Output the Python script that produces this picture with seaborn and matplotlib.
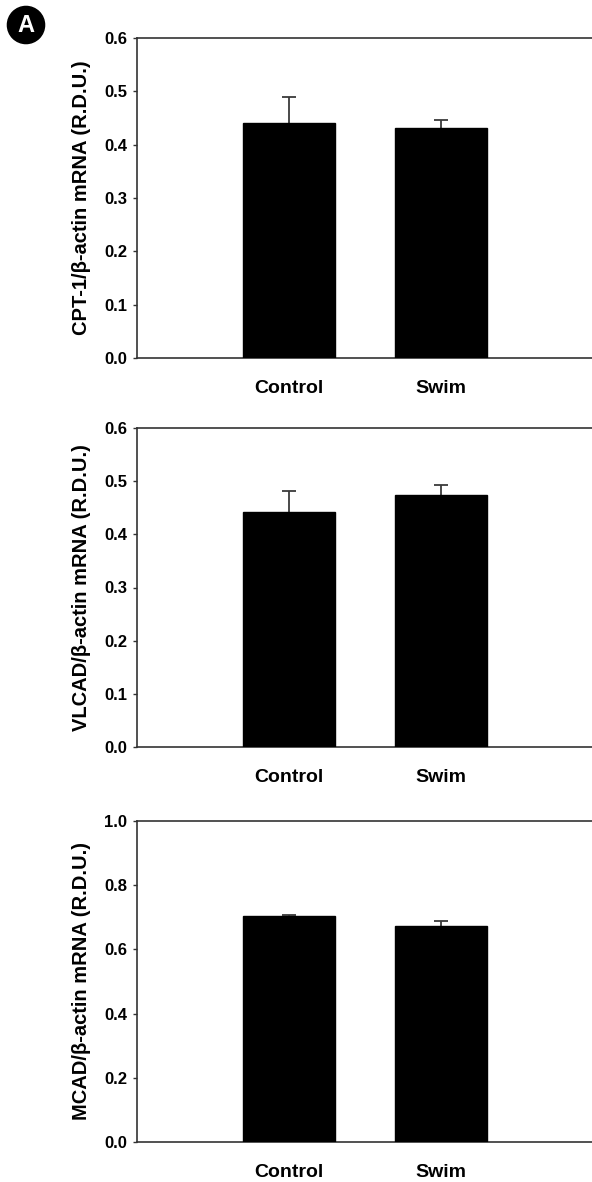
import matplotlib
matplotlib.use("Agg")
import matplotlib.pyplot as plt
import seaborn as sns
import pandas as pd
import numpy as np

sns.set_theme(style="white")
plt.rcParams['font.family'] = ['Liberation Sans', 'DejaVu Sans']
plt.rcParams['font.weight'] = 'bold'
plt.rcParams['text.color'] = 'black'
plt.rcParams['axes.labelcolor'] = 'black'
plt.rcParams['xtick.color'] = 'black'
plt.rcParams['ytick.color'] = 'black'

groups = ["Control", "Swim"]
cpt1_mean = [0.441, 0.432]
cpt1_sem = [0.049, 0.014]
vlcad_mean = [0.442, 0.474]
vlcad_sem = [0.040, 0.019]
mcad_mean = [0.703, 0.674]
mcad_sem = [0.003, 0.016]

ylabels = ["CPT-1/\u03b2-actin mRNA (R.D.U.)",
           "VLCAD/\u03b2-actin mRNA (R.D.U.)",
           "MCAD/\u03b2-actin mRNA (R.D.U.)"]
yticks_list = [np.arange(0, 0.61, 0.1), np.arange(0, 0.61, 0.1), np.arange(0, 1.01, 0.2)]
ylims = [(0, 0.6), (0, 0.6), (0, 1.0)]

W, H = 592, 1182
fig = plt.figure(figsize=(W / 100, H / 100), dpi=100)

panels = [(38, 358), (428, 747), (821, 1142)]
left_px, right_px = 137, 593

data_sets = [(cpt1_mean, cpt1_sem), (vlcad_mean, vlcad_sem), (mcad_mean, mcad_sem)]

for i, ((top, bot), (m, s)) in enumerate(zip(panels, data_sets)):
    ax = fig.add_axes([left_px / W, 1 - bot / H, (right_px - left_px) / W, (bot - top) / H])
    df = pd.DataFrame({"group": groups, "value": m})
    sns.barplot(data=df, x="group", y="value", color="black", width=0.6,
                saturation=1, ax=ax, errorbar=None, edgecolor="black")
    for p in ax.patches:
        p.set_zorder(3)
    ax.errorbar(x=np.arange(len(groups)), y=m, yerr=s,
                fmt="none", ecolor="#3a3a3a", elinewidth=1.3, capsize=5, capthick=1.3,
                zorder=1)
    ax.set_xlim(-1, 2)
    ax.set_ylim(*ylims[i])
    ax.set_yticks(yticks_list[i])
    ax.set_yticklabels([f"{v:.1f}" for v in yticks_list[i]], fontsize=12, fontweight="bold")
    ax.tick_params(axis="y", left=True, length=3, width=1, pad=4, color="#333333")
    ax.tick_params(axis="x", bottom=False, pad=10)
    for lab in ax.get_xticklabels():
        lab.set_fontsize(14)
        lab.set_fontweight("bold")
    ax.set_xlabel("")
    ax.set_ylabel(ylabels[i], fontsize=14.5, fontweight="bold")
    ax.yaxis.set_label_coords(-0.1, 0.5)
    for sp in ["left", "top", "bottom"]:
        ax.spines[sp].set_visible(True)
        ax.spines[sp].set_color("#333333")
        ax.spines[sp].set_linewidth(1.2)
    ax.spines["right"].set_visible(False)

fig.text(26 / W, 1 - 25 / H, "A", fontsize=17, fontweight="bold", color="white",
         ha="center", va="center",
         bbox=dict(boxstyle="circle,pad=0.3", facecolor="black", edgecolor="black"))

fig.savefig("out.png", dpi=100)
